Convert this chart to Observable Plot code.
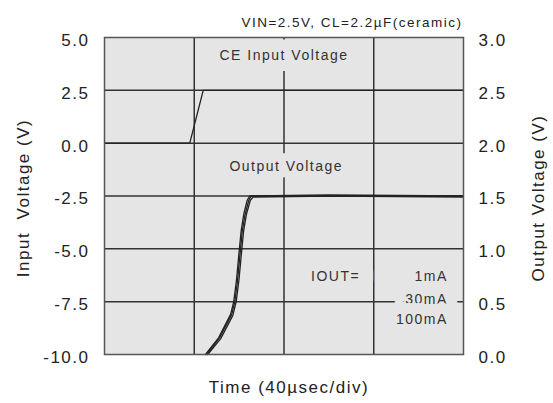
<!DOCTYPE html>
<html>
<head>
<meta charset="utf-8">
<script src="https://cdn.jsdelivr.net/npm/d3@7"></script>
<script src="https://cdn.jsdelivr.net/npm/@observablehq/plot@0.6"></script>
<style>
  html, body { margin: 0; padding: 0; background: #fff; }
  #chart svg text { letter-spacing: 1.5px; }
</style>
</head>
<body>
<div id="chart"></div>
<script>
// ---- data ----
const leftTicks = [-10, -7.5, -5, -2.5, 0, 2.5, 5];
const rightTicks = [0, 0.5, 1.0, 1.5, 2.0, 2.5, 3.0];
const timeGrid = [40, 80, 120];           // µs, 40 µs/div
const timeDomain = [0, 160];

// CE input voltage (left axis, V)
const ceTime = [0, 38, 44, 160];
const ceVolt = [0, 0, 2.5, 2.5];

// Output voltage (right axis, V) for three load currents
const outTime1 = [45.0, 50.9, 56.2, 57.6, 58.8, 59.9, 60.9, 62.1, 63.6, 64.7, 100, 160];
const outVolt1 = [0.0, 0.16, 0.38, 0.50, 0.70, 0.95, 1.17, 1.33, 1.46, 1.50, 1.50, 1.50];
const outTime2 = [45.5, 51.3, 56.7, 58.1, 59.3, 60.4, 61.4, 62.7, 64.3, 65.4, 100, 160];
const outVolt2 = [0.0, 0.16, 0.38, 0.50, 0.70, 0.95, 1.17, 1.33, 1.46, 1.50, 1.51, 1.50];
const outTime3 = [46.0, 51.8, 57.2, 58.7, 59.9, 61.0, 62.0, 63.3, 65.0, 66.2, 100, 160];
const outVolt3 = [0.0, 0.15, 0.37, 0.50, 0.70, 0.95, 1.17, 1.33, 1.46, 1.49, 1.50, 1.49];
const seriesNames = ["1mA", "30mA", "100mA"];

const legendHead = "IOUT=";
const titleText = "VIN=2.5V, CL=2.2\u00b5F(ceramic)";
const xLabel = "Time (40\u00b5sec/div)";
const yLabelLeft = "Input  Voltage (V)";
const yLabelRight = "Output Voltage (V)";

// ---- helpers ----
const toLeft = v => -10 + 5 * v;          // right axis (0..3) -> left axis (-10..5)
const fromLeft = d => (d + 10) / 5;

const ce = ceTime.map((t, i) => ({t, v: ceVolt[i]}));
const out = [];
[[outTime1, outVolt1], [outTime2, outVolt2], [outTime3, outVolt3]].forEach(([ts, vs], k) => {
  ts.forEach((t, i) => out.push({series: seriesNames[k], t, v: vs[i]}));
});

const bg = "#e5e5e5";
const ink = "#222";
const font = "'Liberation Sans', Arial, sans-serif";

const chart = Plot.plot({
  width: 553,
  height: 403,
  marginLeft: 104,
  marginRight: 90,
  marginTop: 37,
  marginBottom: 49,
  style: {fontFamily: font, background: "#fff", color: ink},
  x: {domain: timeDomain, axis: null},
  y: {domain: [-10, 5], axis: null},
  marks: [
    Plot.frame({fill: bg, stroke: null}),
    Plot.gridX(timeGrid, {stroke: "#333", strokeOpacity: 1, strokeWidth: 1.5}),
    Plot.gridY(leftTicks.slice(1, -1), {stroke: "#333", strokeOpacity: 1, strokeWidth: 1.5}),
    // curves
    Plot.line(ce, {x: "t", y: "v", stroke: ink, strokeWidth: 1.3}),
    Plot.line(out, {x: "t", y: d => toLeft(d.v), z: "series", stroke: ink, strokeWidth: 1.3}),
    // in-plot labels with background halo
    Plot.text(["CE Input Voltage"], {x: 80, y: 4.15, text: d => d, fontSize: 14, fill: "#333",
      stroke: bg, strokeWidth: 22}),
    Plot.text(["Output Voltage"], {x: 81, y: -1.09, text: d => d, fontSize: 14, fill: "#333",
      stroke: bg, strokeWidth: 16}),
    Plot.text([legendHead], {x: 103, y: -6.3, text: d => d, fontSize: 14, fill: "#333",
      stroke: bg, strokeWidth: 30}),
    Plot.text(seriesNames, {x: 153, y: (d, i) => [-6.3, -7.4, -8.35][i], text: d => d,
      textAnchor: "end", fontSize: 14, fill: "#333", stroke: bg, strokeWidth: 22}),
    Plot.frame({stroke: "#555", strokeWidth: 1.5}),
    // axes
    Plot.axisY(leftTicks, {anchor: "left", tickSize: 0, tickPadding: 15, fontSize: 17, dy: 3,
      tickFormat: d => d.toFixed(1), label: null}),
    Plot.axisY(rightTicks.map(toLeft), {anchor: "right", tickSize: 0, tickPadding: 15, fontSize: 17, dy: 3,
      tickFormat: d => fromLeft(d).toFixed(1), label: null}),
    // axis titles
    Plot.text([yLabelLeft], {frameAnchor: "left", textAnchor: "middle", dx: -81, dy: 2, rotate: -90,
      text: d => d, fontSize: 17}),
    Plot.text([yLabelRight], {frameAnchor: "right", textAnchor: "middle", dx: 75, dy: 2, rotate: -90,
      text: d => d, fontSize: 17}),
    Plot.text([xLabel], {frameAnchor: "bottom", dy: 38, dx: 5, text: d => d, fontSize: 17}),
    Plot.text([titleText], {frameAnchor: "top-right", textAnchor: "end", dy: -20, dx: -1, text: d => d, fontSize: 13.5})
  ]
});
document.getElementById("chart").appendChild(chart);
</script>
</body>
</html>
